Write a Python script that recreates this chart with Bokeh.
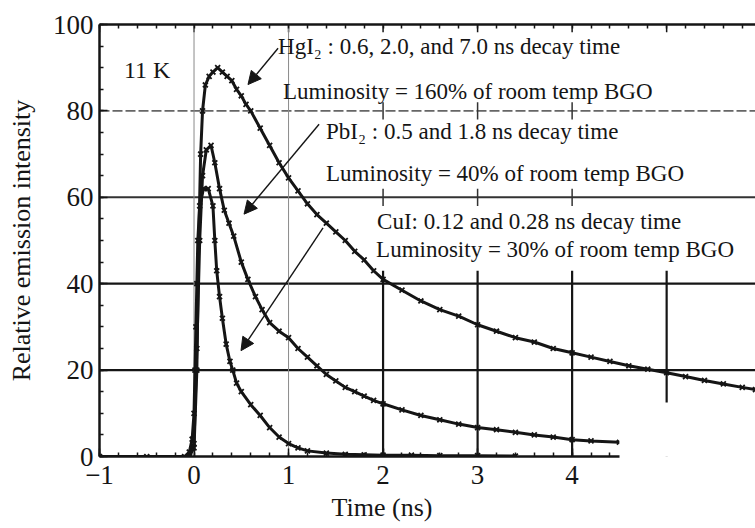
from bokeh.plotting import figure
from bokeh.models import Range1d, LinearAxis, FixedTicker, Arrow, NormalHead
from bokeh.core.properties import value
from bokeh.embed import file_html
from bokeh.resources import INLINE

FONT = "Liberation Serif"

# ---------------- data ----------------
hg_t = [-1.0, -0.5, -0.05, 0.0, 0.03, 0.05, 0.07, 0.09, 0.12, 0.16, 0.2, 0.25, 0.3, 0.35, 0.4,
        0.45, 0.5, 0.55, 0.6, 0.7, 0.8, 0.9, 1.0, 1.1, 1.2, 1.3, 1.4, 1.5, 1.6, 1.7, 1.8,
        1.9, 2.0, 2.2, 2.4, 2.6, 2.8, 3.0, 3.2, 3.4, 3.6, 3.8, 4.0, 4.2, 4.4, 4.6, 4.8,
        5.0, 5.2, 5.4, 5.6, 5.8, 5.94]
hg_y = [0, 0, 0, 2, 20, 50, 70, 80, 86, 88, 89, 90, 89, 88, 87,
        85, 83.5, 81.5, 80, 76, 72, 68, 64.5, 61.5, 58.5, 56, 54, 52, 50, 47.5, 45.5,
        43, 41, 38.5, 36, 34, 32.5, 30.5, 29, 27.5, 26.5, 25, 24, 23, 22, 21, 20.2,
        19.4, 18.5, 17.6, 16.8, 16, 15.5]

pb_t = [-0.05, 0.0, 0.03, 0.06, 0.09, 0.13, 0.18, 0.22, 0.27, 0.32, 0.37, 0.42, 0.5, 0.57,
        0.65, 0.72, 0.8, 0.9, 1.0, 1.1, 1.2, 1.3, 1.4, 1.5, 1.6, 1.7, 1.8, 1.9, 2.0, 2.2,
        2.4, 2.6, 2.8, 3.0, 3.2, 3.4, 3.6, 3.8, 4.0, 4.2, 4.5]
pb_y = [0, 3, 25, 50, 65, 71, 72, 68, 62, 57, 54, 51, 45, 41,
        37, 34, 31, 29, 27.5, 25, 23, 21, 19, 17.5, 16, 15, 14, 13, 12.2, 10.8,
        9.5, 8.5, 7.5, 6.7, 6.2, 5.6, 5.0, 4.5, 3.9, 3.6, 3.3]

cu_t = [-0.1, -0.05, -0.02, 0.0, 0.01, 0.02, 0.03, 0.04, 0.06, 0.1, 0.15, 0.2, 0.22, 0.24,
        0.27, 0.3, 0.34, 0.38, 0.41, 0.45, 0.5, 0.6, 0.7, 0.8, 0.9, 1.0, 1.1, 1.2, 1.4,
        1.6, 1.8, 2.0, 2.3, 2.6, 3.0, 3.4]
cu_y = [0, 1, 4, 10, 20, 30, 40, 50, 58, 62, 62, 58, 50, 43,
        37, 32, 26, 22, 20, 17, 15, 12, 9.5, 6.7, 4.5, 3, 2, 1.3, 0.8,
        0.5, 0.4, 0.3, 0.3, 0.2, 0.2, 0.1]

x_ticks = [-1, 0, 1, 2, 3, 4, 5]
x_minor = [round(-1 + 0.2 * i, 1) for i in range(0, 35)]
y_ticks = [0, 20, 40, 60, 80, 100]
y_minor = list(range(0, 101, 5))

notes = ["HgI\u2082 : 0.6, 2.0, and 7.0 ns decay time",
         "Luminosity = 160% of room temp BGO",
         "PbI\u2082 : 0.5 and 1.8 ns decay time",
         "Luminosity = 40% of room temp BGO",
         "CuI: 0.12 and 0.28 ns decay time",
         "Luminosity = 30% of room temp BGO"]
notes_x = [0.889, 0.942, 1.397, 1.397, 1.937, 1.926]
notes_y = [94.9, 84.5, 75.3, 65.6, 54.5, 48.0]

# arrows: tail (x, y) -> tip (x, y)
arr_x0 = [0.889, 1.323, 1.365]
arr_y0 = [94.5, 76.9, 52.9]
arr_x1 = [0.571, 0.529, 0.497]
arr_y1 = [86.1, 56.1, 24.5]

# ---------------- figure ----------------
X0, X1 = -1, 5.94
p = figure(width=755, height=528, x_range=Range1d(X0, X1), y_range=Range1d(0, 100),
           output_backend="svg", toolbar_location=None,
           min_border_left=99, min_border_top=24, min_border_right=0, min_border_bottom=72,
           x_axis_location=None, y_axis_location=None)
p.outline_line_color = None
p.xgrid.visible = False
p.ygrid.visible = False
p.background_fill_color = "white"
p.border_fill_color = "white"

INK = "#151515"

def style_axis(ax):
    ax.axis_line_color = INK
    ax.axis_line_width = 2.5
    ax.major_tick_in = 8
    ax.major_tick_out = 0
    ax.minor_tick_in = 4
    ax.minor_tick_out = 0
    ax.major_tick_line_color = INK
    ax.major_tick_line_width = 1.5
    ax.minor_tick_line_color = INK
    ax.minor_tick_line_width = 1.5
    ax.major_label_text_font = FONT
    ax.major_label_text_color = INK
    ax.major_label_text_font_size = "27px"

xb = LinearAxis(ticker=FixedTicker(ticks=x_ticks[:-1], minor_ticks=[m for m in x_minor if m <= 4.5]),
                bounds=(-1, 4.5))
style_axis(xb)
xb.major_label_standoff = 9
xb.major_label_overrides = {-1: "\u22121"}
xb.axis_label = "Time (ns)" + "\u00a0" * 14
xb.axis_label_text_font = FONT
xb.axis_label_text_font_size = "26px"
xb.axis_label_text_font_style = "normal"
xb.axis_label_text_color = INK
xb.axis_label_standoff = 6
p.add_layout(xb, "below")

xt = LinearAxis(ticker=FixedTicker(ticks=[], minor_ticks=x_minor))
style_axis(xt)
p.add_layout(xt, "above")

yl = LinearAxis(ticker=FixedTicker(ticks=y_ticks, minor_ticks=y_minor))
style_axis(yl)
yl.major_label_standoff = 6
yl.axis_label = "Relative emission intensity"
yl.axis_label_text_font = FONT
yl.axis_label_text_font_size = "26px"
yl.axis_label_text_font_style = "normal"
yl.axis_label_text_color = INK
yl.axis_label_standoff = 14
p.add_layout(yl, "left")

# major ticks on the top edge
p.segment(x0=x_ticks, y0=[100] * len(x_ticks), x1=x_ticks, y1=[98.2] * len(x_ticks),
          line_color=INK, line_width=1.5)

# grid lines
p.segment(x0=[X0], y0=[80], x1=[X1], y1=[80], line_color="#666", line_width=1.6, line_dash="10 3")
p.segment(x0=[X0], y0=[60], x1=[X1], y1=[60], line_color="#333", line_width=2)
p.segment(x0=[X0, X0], y0=[40, 20], x1=[X1, X1], y1=[40, 20], line_color=INK, line_width=2.2)
p.segment(x0=x_ticks[1:3], y0=[0, 0], x1=x_ticks[1:3], y1=[100, 100], line_color="#8a8a8a", line_width=1)
p.segment(x0=x_ticks[3:], y0=[0] * 4, x1=x_ticks[3:], y1=[43] * 4, line_color=INK, line_width=2.2)
cx = x_ticks[3:6]
p.segment(x0=cx * 2, y0=[78] * 3 + [58] * 3, x1=cx * 2, y1=[82] * 3 + [62] * 3,
          line_color="#333", line_width=1.5)

# curves
for t, y in ((cu_t, cu_y), (pb_t, pb_y), (hg_t, hg_y)):
    p.line(t, y, line_color=INK, line_width=3)
    p.scatter(t, y, marker="x", size=7, line_color=INK, line_width=1.8)

# white patch over bottom-right corner
p.quad(left=[4.5], right=[6.5], bottom=[-5], top=[12.5], fill_color="white", line_color=None)

# annotations
p.text(x=notes_x, y=notes_y, text=notes, text_font=value(FONT), text_font_size="23px",
       text_color=INK, text_baseline="middle", text_align="left")
p.text(x=[-0.741], y=[89.4], text=["11 K"], text_font=value(FONT), text_font_size="24px",
       text_color=INK, text_baseline="middle", text_align="left")
for a, b, c, d in zip(arr_x0, arr_y0, arr_x1, arr_y1):
    p.add_layout(Arrow(end=NormalHead(size=13, fill_color=INK, line_color=INK, line_width=1),
                       x_start=a, y_start=b, x_end=c, y_end=d, line_color=INK, line_width=1.4))

open("out.html", "w").write(file_html(p, INLINE))
